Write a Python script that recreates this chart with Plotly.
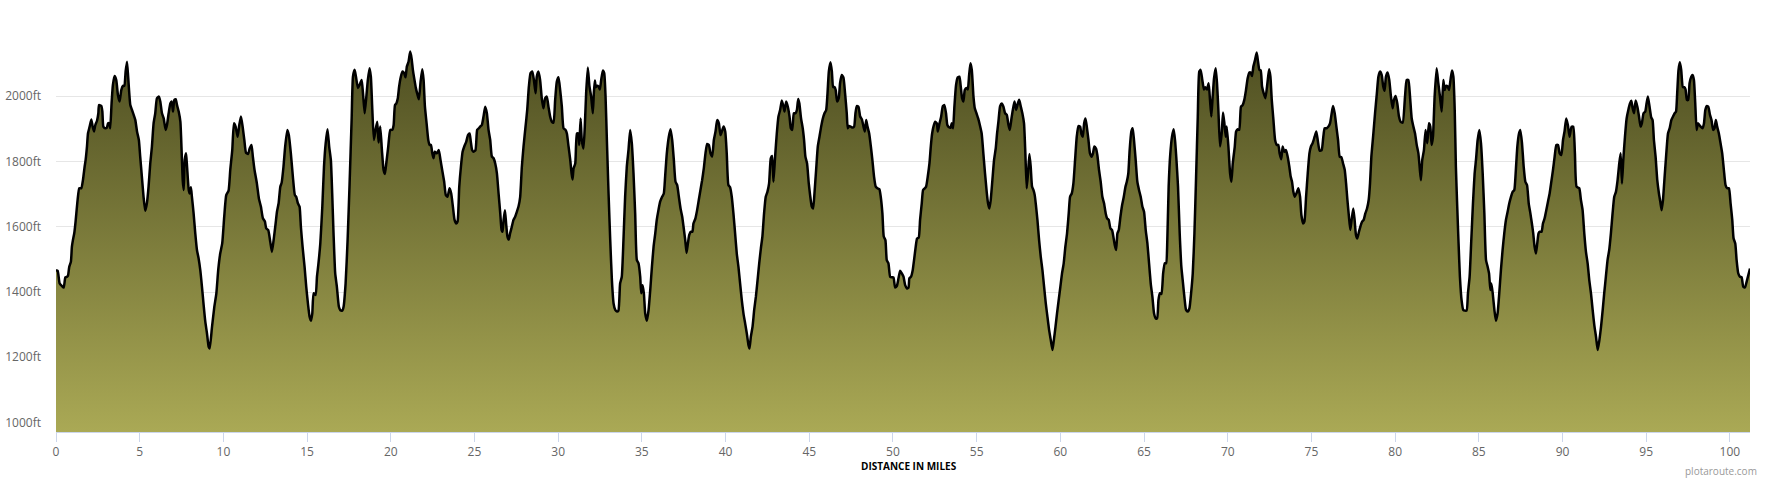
import plotly.graph_objects as go

# ---- data: distance (miles) and elevation (ft) ----
d1 = [0.00,0.10,0.22,0.36,0.46,0.56,0.66,0.72,0.79,0.89,
      0.95,1.01,1.09,1.17,1.29,1.39,1.51,1.61,1.71,1.77,
      1.85,1.91,2.01,2.11,2.19,2.27,2.35,2.45,2.53,2.57,
      2.71,2.77,2.83,2.94,3.04,3.11,3.19,3.24,3.32,3.40,
      3.50,3.60,3.70,3.80,3.90,4.00,4.08,4.16,4.24,4.31,
      4.44,4.54,4.64,4.74,4.84,4.95,5.03,5.13,5.23,5.33,
      5.43,5.53,5.63,5.73,5.83,5.93,6.03,6.15,6.23,6.33,
      6.43,6.55,6.63,6.73,6.83,6.91,6.99,7.07,7.15,7.23,
      7.33,7.43,7.51,7.57,7.63,7.69,7.77,7.83,7.93,7.99,
      8.06,8.12,8.22,8.32,8.42,8.52,8.62,8.72,8.82,8.92,
      9.02,9.12,9.18]
e1 = [1467,1465,1426,1418,1414,1445,1447,1451,1477,1493,
      1539,1559,1580,1616,1682,1718,1718,1743,1784,1805,
      1846,1886,1907,1929,1907,1892,1912,1925,1948,1973,
      1970,1953,1907,1902,1904,1917,1917,1902,1978,2035,
      2062,2050,2004,1984,2019,2032,2032,2076,2106,2060,
      1973,1958,1943,1927,1892,1866,1815,1754,1692,1649,
      1672,1723,1794,1846,1917,1948,1994,1999,1984,1948,
      1933,1897,1912,1948,1978,1984,1953,1989,1991,1973,
      1953,1922,1825,1743,1713,1805,1825,1784,1713,1702,
      1721,1692,1641,1580,1529,1503,1467,1416,1360,1309,
      1273,1232,1227]

d2 = [9.32,9.46,9.58,9.69,9.81,9.93,10.05,10.17,10.31,10.41,
      10.53,10.63,10.73,10.85,10.95,11.05,11.15,11.25,11.35,11.47,
      11.57,11.68,11.76,11.86,12.00,12.12,12.24,12.36,12.48,12.56,
      12.68,12.80,12.90,13.00,13.12,13.20,13.30,13.40,13.48,13.59,
      13.69,13.82,13.91,14.03,14.15,14.27,14.35,14.45,14.55,14.63,
      14.73,14.85,14.95,15.05,15.15,15.23,15.31,15.39,15.51,15.59,
      15.67,15.79,15.91,16.01,16.11,16.22,16.32,16.42,16.50,16.58,
      16.68,16.78,16.90,16.98,17.10,17.18,17.30,17.42,17.54,17.66,
      17.74,17.84,17.92,18.04,18.14,18.26,18.34,18.44,18.54,18.63,
      18.73,18.81,18.89,18.99,19.09,19.19,19.27]
e2 = [1293,1355,1396,1467,1518,1549,1631,1697,1711,1774,
      1835,1917,1907,1876,1912,1938,1907,1866,1827,1823,
      1840,1851,1815,1774,1733,1687,1662,1626,1616,1595,
      1590,1554,1523,1559,1610,1646,1672,1723,1735,1784,
      1846,1897,1881,1825,1754,1697,1692,1672,1662,1600,
      1539,1477,1416,1365,1324,1312,1334,1396,1391,1447,
      1483,1549,1662,1784,1856,1899,1846,1805,1702,1580,
      1457,1416,1355,1345,1343,1355,1426,1559,1733,1927,
      2060,2081,2060,2025,2035,2050,2009,1948,1999,2050,
      2086,2060,1968,1866,1897,1922,1858]

d3 = [19.37,19.47,19.57,19.65,19.73,19.85,19.97,20.09,20.17,20.25,
      20.33,20.42,20.50,20.60,20.70,20.80,20.88,20.96,21.06,21.16,
      21.24,21.32,21.40,21.50,21.60,21.68,21.78,21.88,21.96,22.04,
      22.14,22.24,22.32,22.40,22.48,22.55,22.63,22.75,22.87,22.97,
      23.07,23.19,23.29,23.39,23.51,23.61,23.71,23.81,23.91,23.99,
      24.09,24.19,24.29,24.39,24.51,24.61,24.71,24.78,24.86,24.94,
      25.06,25.16,25.26,25.34,25.44,25.54,25.64,25.74,25.84,25.94,
      26.04,26.14,26.24,26.34,26.44,26.54,26.62,26.68,26.74,26.82,
      26.89,26.97,27.05,27.13,27.23,27.33,27.43,27.53,27.63,27.73,
      27.83,27.93,28.05,28.15,28.25,28.35,28.45,28.55,28.65,28.72,
      28.82,28.92,29.02,29.12,29.22,29.32,29.42,29.52]
e3 = [1907,1835,1774,1762,1794,1846,1897,1897,1912,1973,
      1978,1994,2030,2060,2076,2071,2058,2091,2106,2137,
      2117,2081,2055,2025,2004,1991,2045,2083,2050,1968,
      1917,1866,1851,1851,1825,1810,1830,1825,1835,1805,
      1774,1738,1697,1692,1718,1702,1662,1621,1610,1616,
      1723,1784,1830,1846,1861,1881,1886,1861,1835,1830,
      1835,1897,1902,1907,1912,1938,1968,1948,1897,1866,
      1815,1810,1794,1764,1702,1641,1590,1585,1621,1651,
      1610,1570,1561,1580,1600,1621,1631,1646,1662,1692,
      1784,1846,1907,1958,2030,2071,2076,2050,2009,2060,
      2076,2050,1994,1963,1994,1999,1968,1938]

d4 = [29.62,29.72,29.82,29.92,30.02,30.12,30.22,30.32,30.44,30.52,
      30.62,30.72,30.80,30.86,30.92,31.02,31.12,31.20,31.26,31.34,
      31.41,31.51,31.59,31.67,31.77,31.87,31.97,32.07,32.13,32.19,
      32.25,32.33,32.41,32.49,32.57,32.67,32.75,32.83,32.91,33.01,
      33.11,33.21,33.31,33.41,33.51,33.60,33.70,33.80,33.90,34.00,
      34.10,34.20,34.30,34.40,34.50,34.60,34.70,34.80,34.90,34.96,
      35.04,35.12,35.20,35.30,35.40,35.50,35.60,35.70,35.80,35.89,
      35.99,36.09,36.21,36.31,36.39,36.49,36.61,36.71,36.81,36.91,
      37.01,37.11,37.21,37.31,37.41,37.49,37.59,37.67,37.75,37.83,
      37.93,38.02,38.08,38.20,38.30,38.40,38.50,38.60,38.70,38.80,
      38.90,39.00,39.10,39.20,39.30,39.40,39.50,39.60,39.70]
e4 = [1922,1919,1989,2045,2058,2019,1968,1902,1897,1886,
      1846,1805,1764,1745,1779,1794,1886,1886,1851,1932,
      1866,1840,1907,2009,2088,2030,1999,1948,2009,2048,
      2028,2032,2030,2021,2050,2079,2071,1999,1866,1702,
      1559,1436,1365,1345,1340,1343,1426,1447,1559,1692,
      1784,1835,1897,1856,1764,1641,1498,1488,1447,1396,
      1421,1396,1334,1312,1345,1406,1477,1539,1580,1621,
      1651,1677,1692,1702,1754,1825,1876,1899,1866,1805,
      1738,1728,1692,1656,1631,1600,1559,1520,1549,1575,
      1585,1585,1610,1626,1651,1682,1713,1743,1779,1825,
      1854,1851,1825,1815,1866,1892,1927,1917,1881]

d5 = [39.88,39.98,40.07,40.17,40.27,40.37,40.47,40.57,40.67,40.77,
      40.87,40.97,41.07,41.17,41.27,41.37,41.43,41.51,41.61,41.71,
      41.81,41.91,42.01,42.11,42.20,42.30,42.40,42.50,42.60,42.70,
      42.78,42.86,42.96,43.06,43.16,43.26,43.36,43.46,43.52,43.62,
      43.72,43.82,43.90,43.98,44.08,44.18,44.26,44.34,44.41,44.51,
      44.61,44.69,44.77,44.87,44.97,45.05,45.15,45.23,45.31,45.41,
      45.51,45.61,45.71,45.81,45.91,46.01,46.09,46.17,46.27,46.35,
      46.43,46.51,46.58,46.66,46.76,46.84,46.94,47.04,47.14,47.24,
      47.30,47.38,47.48,47.58,47.68,47.76,47.84,47.94,48.04,48.14,
      48.24,48.32,48.40,48.48,48.58,48.68,48.77,48.87,48.97,49.07,
      49.19,49.27,49.37,49.45,49.55,49.63,49.73,49.83]
e5 = [1907,1892,1825,1728,1721,1692,1641,1580,1518,1477,
      1426,1375,1334,1304,1273,1237,1227,1263,1293,1345,
      1385,1436,1488,1534,1570,1641,1692,1707,1733,1810,
      1817,1738,1815,1886,1938,1958,1987,1968,1953,1984,
      1968,1938,1902,1897,1948,1948,1958,1992,1978,1932,
      1902,1866,1815,1794,1733,1697,1662,1656,1702,1774,
      1846,1876,1907,1932,1948,1958,2009,2076,2104,2076,
      2028,2028,2019,1984,1994,2040,2065,2058,2009,1948,
      1902,1909,1907,1904,1907,1948,1970,1968,1938,1930,
      1907,1892,1927,1907,1886,1846,1805,1754,1723,1718,
      1715,1692,1641,1570,1559,1498,1488,1447]

d6 = [49.93,50.03,50.13,50.23,50.33,50.43,50.53,50.63,50.73,50.83,
      50.93,50.98,51.08,51.18,51.26,51.36,51.44,51.54,51.62,51.72,
      51.80,51.90,51.98,52.08,52.18,52.26,52.34,52.42,52.52,52.62,
      52.68,52.78,52.88,52.98,53.07,53.17,53.25,53.35,53.45,53.51,
      53.59,53.67,53.77,53.87,53.97,54.05,54.13,54.21,54.29,54.39,
      54.47,54.55,54.63,54.71,54.81,54.89,54.99,55.09,55.19,55.30,
      55.40,55.50,55.60,55.68,55.76,55.84,55.94,56.04,56.14,56.22,
      56.30,56.40,56.50,56.60,56.70,56.80,56.90,56.98,57.08,57.16,
      57.26,57.36,57.46,57.54,57.64,57.73,57.83,57.91,57.99,58.07,
      58.15,58.23,58.31,58.39,58.47,58.55,58.63,58.73,58.83,58.93,
      59.03,59.13,59.23,59.33,59.43,59.53,59.61,59.71,59.80,59.90,
      60.00,60.10,60.20,60.30,60.40,60.50,60.58]
e6 = [1445,1445,1414,1418,1442,1465,1457,1447,1421,1411,
      1414,1442,1447,1467,1498,1539,1564,1567,1621,1672,
      1713,1718,1723,1754,1794,1846,1886,1907,1922,1917,
      1892,1917,1938,1970,1973,1948,1912,1905,1904,1917,
      1902,1968,2035,2058,2060,2030,1994,1984,2019,2025,
      2021,2065,2101,2081,1999,1963,1948,1932,1912,1886,
      1825,1764,1707,1672,1656,1682,1743,1805,1840,1886,
      1922,1970,1978,1968,1948,1943,1912,1897,1932,1958,
      1984,1958,1978,1989,1968,1948,1917,1825,1718,1764,
      1823,1784,1723,1713,1697,1662,1621,1559,1508,1467,
      1416,1365,1324,1283,1252,1222,1252,1293,1334,1375,
      1416,1457,1488,1539,1580,1641,1692]

d7 = [60.68,60.78,60.88,60.98,61.08,61.18,61.26,61.34,61.42,61.50,
      61.58,61.68,61.77,61.87,61.95,62.03,62.13,62.21,62.31,62.41,
      62.51,62.61,62.71,62.79,62.89,62.99,63.09,63.17,63.25,63.33,
      63.41,63.49,63.59,63.69,63.79,63.89,63.97,64.06,64.14,64.24,
      64.32,64.40,64.50,64.60,64.70,64.80,64.90,65.00,65.10,65.20,
      65.30,65.40,65.50,65.60,65.70,65.78,65.86,65.94,66.04,66.14,
      66.24,66.32,66.39,66.47,66.57,66.67,66.77,66.85,66.93,67.03,
      67.13,67.23,67.33,67.43,67.51,67.61,67.71,67.81,67.91,68.01,
      68.11,68.21,68.30,68.38,68.48,68.58,68.66,68.76,68.86,68.94,
      69.02,69.10,69.18,69.28,69.36,69.44,69.54,69.64,69.72,69.80,
      69.88,69.94,70.04]
e7 = [1702,1733,1805,1876,1909,1907,1884,1876,1917,1932,
      1907,1866,1825,1815,1825,1846,1840,1820,1774,1738,
      1692,1672,1641,1626,1621,1595,1590,1569,1544,1529,
      1580,1590,1631,1667,1692,1723,1738,1764,1835,1892,
      1902,1866,1805,1738,1713,1692,1662,1646,1590,1549,
      1488,1426,1385,1334,1319,1319,1375,1396,1394,1457,
      1488,1488,1559,1723,1825,1876,1899,1866,1810,1723,
      1580,1477,1426,1375,1345,1340,1350,1396,1457,1580,
      1754,1938,2076,2081,2050,2021,2028,2021,2040,1989,
      1938,1999,2055,2086,2040,1958,1846,1886,1950,1917,
      1876,1907,1846]

d8 = [70.14,70.22,70.30,70.42,70.50,70.60,70.69,70.79,70.89,70.99,
      71.09,71.19,71.29,71.37,71.45,71.53,71.63,71.73,71.81,71.89,
      71.97,72.05,72.15,72.25,72.37,72.47,72.55,72.63,72.73,72.83,
      72.93,73.02,73.10,73.20,73.28,73.38,73.48,73.58,73.68,73.76,
      73.84,73.92,74.00,74.10,74.22,74.32,74.40,74.50,74.58,74.68,
      74.78,74.88,74.97,75.07,75.19,75.29,75.39,75.49,75.61,75.71,
      75.79,75.91,76.01,76.11,76.21,76.29,76.39,76.49,76.59,76.69,
      76.79,76.89,76.99,77.07,77.15,77.24,77.32,77.40,77.50,77.58,
      77.66,77.74,77.84,77.92,78.02,78.12,78.22,78.32,78.42,78.50,
      78.58,78.70,78.80,78.90,79.00,79.10,79.20,79.29,79.37,79.45,
      79.55,79.65,79.75,79.85,79.93,80.03,80.13,80.23,80.33,80.45]
e8 = [1764,1738,1794,1846,1892,1899,1897,1968,1973,1989,
      2019,2055,2073,2073,2062,2091,2111,2134,2106,2081,
      2079,2030,2009,1994,2040,2083,2060,1989,1927,1866,
      1851,1851,1825,1807,1846,1830,1835,1815,1784,1754,
      1738,1707,1692,1702,1718,1692,1636,1610,1616,1692,
      1764,1825,1846,1856,1876,1892,1861,1833,1835,1876,
      1902,1902,1907,1917,1948,1970,1948,1907,1866,1815,
      1813,1794,1774,1733,1682,1631,1590,1621,1656,1621,
      1575,1564,1585,1600,1615,1621,1641,1656,1682,1733,
      1815,1886,1948,2004,2060,2076,2065,2030,2017,2060,
      2073,2050,1999,1963,1989,2001,1978,1938,1922,1919]

d9 = [80.59,80.69,80.79,80.89,80.99,81.09,81.19,81.29,81.39,81.48,
      81.54,81.62,81.72,81.82,81.92,82.02,82.10,82.18,82.26,82.36,
      82.48,82.58,82.68,82.78,82.88,82.96,83.04,83.14,83.22,83.32,
      83.40,83.48,83.56,83.63,83.71,83.79,83.87,83.97,84.07,84.17,
      84.27,84.35,84.45,84.55,84.65,84.75,84.83,84.93,85.03,85.13,
      85.23,85.33,85.43,85.53,85.61,85.69,85.75,85.83,85.93,86.02,
      86.12,86.22,86.32,86.42,86.52,86.62,86.72,86.82,86.92,87.02,
      87.12,87.20,87.30,87.40,87.48,87.58,87.68,87.78,87.88,87.98,
      88.08,88.17,88.25,88.33,88.41,88.49,88.57,88.65,88.75,88.83,
      88.93,89.03,89.13,89.23,89.33,89.43,89.53,89.63,89.73,89.83,
      89.93,90.03,90.12,90.22,90.32,90.42]
e9 = [1999,2050,2050,1999,1932,1907,1886,1851,1825,1774,
      1743,1805,1835,1897,1856,1917,1907,1851,1876,1999,
      2086,2040,1999,1953,2050,2019,2032,2030,2019,2055,
      2079,2060,1958,1784,1662,1549,1447,1375,1345,1343,
      1343,1396,1447,1559,1672,1764,1805,1866,1897,1856,
      1764,1641,1498,1477,1457,1406,1426,1396,1345,1312,
      1334,1396,1467,1529,1580,1621,1646,1672,1692,1707,
      1713,1764,1846,1886,1897,1856,1784,1738,1728,1672,
      1641,1610,1580,1539,1518,1549,1580,1585,1585,1610,
      1626,1651,1677,1702,1738,1774,1815,1851,1851,1825,
      1820,1866,1892,1932,1912,1876]

d10 = [90.54,90.64,90.74,90.84,91.00,91.10,91.20,91.30,91.40,91.50,
       91.60,91.70,91.80,91.90,92.00,92.10,92.20,92.30,92.40,92.49,
       92.59,92.69,92.79,92.89,92.99,93.09,93.19,93.29,93.39,93.47,
       93.55,93.63,93.73,93.83,93.93,94.03,94.11,94.19,94.27,94.37,
       94.47,94.57,94.66,94.74,94.84,94.94,95.02,95.10,95.20,95.30,
       95.38,95.46,95.56,95.66,95.76,95.84,95.92,96.00,96.10,96.20,
       96.30,96.40,96.50,96.60,96.70,96.78,96.85,96.93,97.01,97.09,
       97.19,97.27,97.35,97.43,97.51,97.59,97.69,97.77,97.85,97.93,
       98.01,98.09,98.17,98.25,98.37,98.45,98.53,98.61,98.71,98.81,
       98.90,99.00,99.08,99.16,99.24,99.34,99.44,99.54,99.64,99.74,
       99.84,99.94,100.04,100.14,100.22,100.32,100.40,100.50,100.60,100.70,
       100.80,100.90,101.00,101.10,101.20]
e10 = [1907,1907,1825,1723,1718,1682,1651,1580,1523,1488,
       1436,1396,1345,1298,1263,1222,1252,1293,1345,1396,
       1447,1498,1529,1580,1641,1692,1707,1743,1794,1825,
       1733,1805,1876,1932,1958,1978,1986,1963,1948,1987,
       1968,1938,1907,1917,1948,1953,1978,1999,1968,1935,
       1927,1866,1815,1743,1702,1677,1651,1682,1754,1825,
       1886,1902,1927,1938,1948,1953,2009,2081,2104,2081,
       2028,2028,2021,1989,1989,2040,2060,2065,2050,1978,
       1897,1917,1912,1907,1902,1917,1958,1970,1968,1943,
       1927,1897,1902,1927,1907,1886,1856,1825,1774,1728,
       1718,1718,1672,1621,1564,1549,1498,1457,1447,1445,
       1416,1414,1432,1452,1472]

x_ticks = list(range(0, 101, 5))
y_ticks = [1000, 1200, 1400, 1600, 1800, 2000]
y_tick_text = ["1000ft", "1200ft", "1400ft", "1600ft", "1800ft", "2000ft"]
x_title = "DISTANCE IN MILES"
watermark = "plotaroute.com"

dist_segments = [d1, d2, d3, d4, d5, d6, d7, d8, d9, d10]
elev_segments = [e1, e2, e3, e4, e5, e6, e7, e8, e9, e10]
distance_mi, elevation_ft = [], []
for ds, es in zip(dist_segments, elev_segments):
    assert len(ds) == len(es), (ds[0], len(ds), len(es))
    distance_mi += ds
    elevation_ft += es

Y_MIN, Y_MAX = 971.0, 2172.5
X_MAX = 101.2
FONT = "Open Sans, DejaVu Sans, sans-serif"

fig = go.Figure()
fig.add_trace(go.Scatter(
    x=distance_mi, y=elevation_ft,
    mode="lines",
    line=dict(color="#000000", width=2.5, shape="spline", smoothing=0.5),
    fill="tozeroy",
    fillgradient=dict(type="vertical", start=Y_MIN, stop=max(elevation_ft),
                      colorscale=[[0, "#aaa955"], [1, "#4f4f22"]]),
    hoverinfo="skip",
))

fig.update_layout(
    width=1770, height=480,
    margin=dict(l=56, r=20, t=40, b=48, autoexpand=False),
    paper_bgcolor="white", plot_bgcolor="white",
    showlegend=False,
    font=dict(family=FONT, size=12, color="#666666"),
    xaxis=dict(
        range=[0, X_MAX], tickvals=x_ticks, ticks="outside", ticklen=9,
        tickcolor="#ccd6eb", tickwidth=1, showline=True, linecolor="#ccd6eb",
        linewidth=1, showgrid=False, zeroline=False, automargin=False,
        tickfont=dict(size=12, color="#666666"),
    ),
    yaxis=dict(
        range=[Y_MIN, Y_MAX], tickvals=y_ticks, ticktext=y_tick_text,
        showgrid=True, gridcolor="#e6e6e6", gridwidth=1, zeroline=False,
        showline=False, ticks="", ticklabelstandoff=14, automargin=False,
        tickfont=dict(size=12, color="#666666"),
    ),
    annotations=[
        dict(text="<b>" + x_title + "</b>", xref="paper", yref="paper",
             x=0.5035, y=-0.086, xanchor="center", yanchor="middle",
             showarrow=False, font=dict(size=10, color="#000000", family=FONT)),
        dict(text=watermark, xref="paper", yref="paper",
             x=1.0053, y=-0.1004, xanchor="right", yanchor="middle",
             showarrow=False, font=dict(size=10, color="#999999", family=FONT)),
    ],
)

fig.write_html("out.html", config={"displayModeBar": False},
               post_script="document.body.style.margin='0';")
